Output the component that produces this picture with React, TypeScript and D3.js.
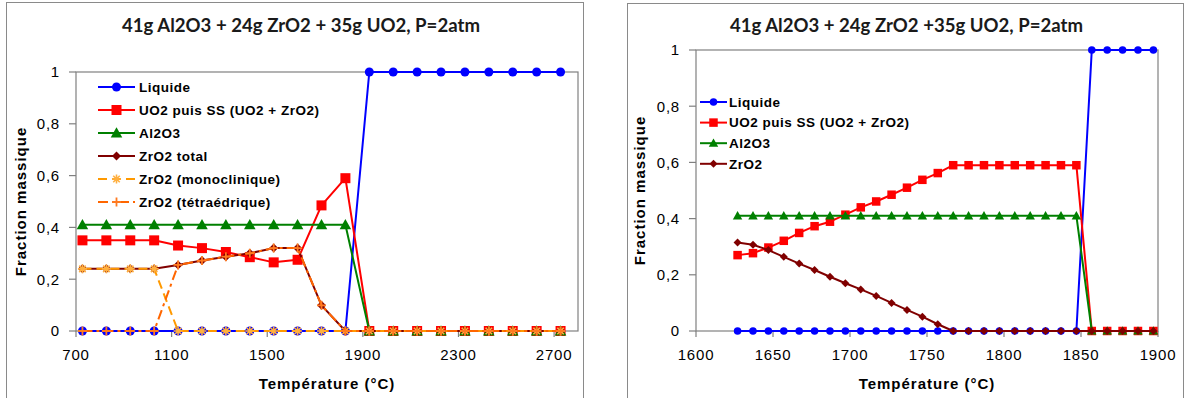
import React from "react";
import * as d3 from "d3";

// ---------- Data: left chart (700–2800 °C) ----------
const tempsA = [727, 827, 927, 1027, 1127, 1227, 1327, 1427, 1527, 1627, 1727, 1827, 1927, 2027, 2127, 2227, 2327, 2427, 2527, 2627, 2727];
const liquideA = [0, 0, 0, 0, 0, 0, 0, 0, 0, 0, 0, 0, 1, 1, 1, 1, 1, 1, 1, 1, 1];
const uo2A = [0.35, 0.35, 0.35, 0.35, 0.33, 0.32, 0.305, 0.285, 0.265, 0.275, 0.485, 0.59, 0, 0, 0, 0, 0, 0, 0, 0, 0];
const al2o3A = [0.41, 0.41, 0.41, 0.41, 0.41, 0.41, 0.41, 0.41, 0.41, 0.41, 0.41, 0.41, 0, 0, 0, 0, 0, 0, 0, 0, 0];
const zro2TotalA = [0.24, 0.24, 0.24, 0.24, 0.255, 0.272, 0.287, 0.3, 0.32, 0.32, 0.099, 0, 0, 0, 0, 0, 0, 0, 0, 0, 0];
const zro2MonoA = [0.24, 0.24, 0.24, 0.24, 0, 0, 0, 0, 0, 0, 0, 0, 0, 0, 0, 0, 0, 0, 0, 0, 0];
const zro2TetraA = [0, 0, 0, 0, 0.255, 0.272, 0.287, 0.3, 0.32, 0.32, 0.099, 0, 0, 0, 0, 0, 0, 0, 0, 0, 0];
const xTicksA = [700, 1100, 1500, 1900, 2300, 2700];

// ---------- Data: right chart (1600–1900 °C) ----------
const tempsB = [1627, 1637, 1647, 1657, 1667, 1677, 1687, 1697, 1707, 1717, 1727, 1737, 1747, 1757, 1767, 1777, 1787, 1797, 1807, 1817, 1827, 1837, 1847, 1857, 1867, 1877, 1887, 1897];
const liquideB = [0, 0, 0, 0, 0, 0, 0, 0, 0, 0, 0, 0, 0, 0, 0, 0, 0, 0, 0, 0, 0, 0, 0, 1, 1, 1, 1, 1];
const uo2B = [0.27, 0.277, 0.297, 0.321, 0.349, 0.373, 0.389, 0.414, 0.44, 0.461, 0.485, 0.51, 0.538, 0.562, 0.59, 0.59, 0.59, 0.59, 0.59, 0.59, 0.59, 0.59, 0.59, 0, 0, 0, 0, 0];
const al2o3B = [0.41, 0.41, 0.41, 0.41, 0.41, 0.41, 0.41, 0.41, 0.41, 0.41, 0.41, 0.41, 0.41, 0.41, 0.41, 0.41, 0.41, 0.41, 0.41, 0.41, 0.41, 0.41, 0.41, 0, 0, 0, 0, 0];
const zro2B = [0.315, 0.307, 0.288, 0.264, 0.24, 0.217, 0.193, 0.17, 0.148, 0.125, 0.1, 0.075, 0.051, 0.024, 0, 0, 0, 0, 0, 0, 0, 0, 0, 0, 0, 0, 0, 0];
const xTicksB = [1600, 1650, 1700, 1750, 1800, 1850, 1900];

const yTicks = [0, 0.2, 0.4, 0.6, 0.8, 1];

const titleA = "41g Al2O3 + 24g ZrO2 + 35g UO2, P=2atm";
const titleB = "41g Al2O3 + 24g ZrO2 +35g UO2, P=2atm";

type Marker = "circle" | "square" | "triangle" | "diamond" | "asterisk" | "plus";
interface Series {
  name: string;
  values: number[];
  color: string;
  markerColor: string;
  marker: Marker;
  dash?: string;
}

const seriesA: Series[] = [
  { name: "Liquide", values: liquideA, color: "#0000FF", markerColor: "#0000FF", marker: "circle" },
  { name: "UO2 puis SS (UO2 + ZrO2)", values: uo2A, color: "#FF0000", markerColor: "#FF0000", marker: "square" },
  { name: "Al2O3", values: al2o3A, color: "#008000", markerColor: "#008000", marker: "triangle" },
  { name: "ZrO2 total", values: zro2TotalA, color: "#800000", markerColor: "#800000", marker: "diamond" },
  { name: "ZrO2 (monoclinique)", values: zro2MonoA, color: "#FF9900", markerColor: "#FFB040", marker: "asterisk", dash: "9,5" },
  { name: "ZrO2 (tétraédrique)", values: zro2TetraA, color: "#FF6600", markerColor: "#FF7A20", marker: "plus", dash: "10,4,3,4" },
];

const seriesB: Series[] = [
  { name: "Liquide", values: liquideB, color: "#0000FF", markerColor: "#0000FF", marker: "circle" },
  { name: "UO2 puis SS (UO2 + ZrO2)", values: uo2B, color: "#FF0000", markerColor: "#FF0000", marker: "square" },
  { name: "Al2O3", values: al2o3B, color: "#008000", markerColor: "#008000", marker: "triangle" },
  { name: "ZrO2", values: zro2B, color: "#800000", markerColor: "#800000", marker: "diamond" },
];

function MarkerShape({ type, x, y, size, color }: { type: Marker; x: number; y: number; size: number; color: string }) {
  const h = size / 2;
  switch (type) {
    case "circle":
      return <circle cx={x} cy={y} r={h} fill={color} />;
    case "square":
      return <rect x={x - h} y={y - h} width={size} height={size} fill={color} />;
    case "triangle":
      return <path d={`M${x},${y - h * 1.05}L${x + h * 1.05},${y + h * 0.8}L${x - h * 1.05},${y + h * 0.8}Z`} fill={color} />;
    case "diamond":
      return <path d={`M${x},${y - h}L${x + h},${y}L${x},${y + h}L${x - h},${y}Z`} fill={color} />;
    case "asterisk": {
      const d = h * 0.72;
      return (
        <path
          d={`M${x - h},${y}L${x + h},${y}M${x},${y - h}L${x},${y + h}M${x - d},${y - d}L${x + d},${y + d}M${x - d},${y + d}L${x + d},${y - d}`}
          stroke={color}
          strokeWidth={1.6}
          fill="none"
        />
      );
    }
    case "plus":
      return <path d={`M${x - h},${y}L${x + h},${y}M${x},${y - h}L${x},${y + h}`} stroke={color} strokeWidth={1.8} fill="none" />;
  }
  return null;
}

interface ChartCfg {
  frame: [number, number, number, number];
  plot: { left: number; right: number; top: number; bottom: number };
  xDomain: [number, number];
  xTicks: number[];
  temps: number[];
  series: Series[];
  title: string;
  titleCx: number;
  titleLen: number;
  legend: { lineX0: number; lineX1: number; textX: number; y0: number; dy: number };
  markerSizes: Record<Marker, number>;
  yTitleX: number;
}

const fmtY = (v: number) => (v === 0 ? "0" : v === 1 ? "1" : d3.format(".1f")(v).replace(".", ","));

function Chart({ cfg }: { cfg: ChartCfg }) {
  const { plot } = cfg;
  const x = d3.scaleLinear().domain(cfg.xDomain).range([plot.left, plot.right]);
  const y = d3.scaleLinear().domain([0, 1]).range([plot.bottom, plot.top]);
  const [fx, fy, fw, fh] = cfg.frame;
  const tickFont = { fontFamily: "'Liberation Sans', Arial, sans-serif", fontSize: 15, letterSpacing: 0.8, fill: "#000" };
  return (
    <g>
      <rect x={fx + 0.5} y={fy + 0.5} width={fw} height={fh} fill="#fff" stroke="#8a8a8a" strokeWidth={1} />
      <text
        x={cfg.titleCx}
        y={31.5}
        textAnchor="middle"
        textLength={cfg.titleLen}
        lengthAdjust="spacingAndGlyphs"
        style={{ fontFamily: "Lato, 'Open Sans', sans-serif", fontWeight: 700, fontSize: 19, fill: "#1a1a1a" }}
      >
        {cfg.title}
      </text>
      {/* plot area border */}
      <rect x={plot.left} y={plot.top} width={plot.right - plot.left} height={plot.bottom - plot.top} fill="#fff" stroke="#808080" strokeWidth={1.2} />
      {/* y ticks */}
      {yTicks.map((t) => (
        <g key={"y" + t}>
          <line x1={plot.left - 7} x2={plot.left} y1={y(t)} y2={y(t)} stroke="#808080" strokeWidth={1.2} />
          <text x={plot.left - 16} y={y(t)} dy="0.36em" textAnchor="end" style={tickFont}>
            {fmtY(t)}
          </text>
        </g>
      ))}
      {/* x ticks */}
      {cfg.xTicks.map((t) => (
        <g key={"x" + t}>
          <line x1={x(t)} x2={x(t)} y1={plot.bottom} y2={plot.bottom + 6} stroke="#808080" strokeWidth={1.2} />
          <text x={x(t)} y={355} dy="0.36em" textAnchor="middle" style={tickFont}>
            {t}
          </text>
        </g>
      ))}
      {/* axis titles */}
      <text
        x={(plot.left + plot.right) / 2}
        y={384}
        dy="0.36em"
        textAnchor="middle"
        style={{ fontFamily: "'Liberation Sans', Arial, sans-serif", fontWeight: 700, fontSize: 15, letterSpacing: 1, fill: "#000" }}
      >
        Température (°C)
      </text>
      <text
        transform={`translate(${cfg.yTitleX},${(plot.top + plot.bottom) / 2}) rotate(-90)`}
        dy="0.36em"
        textAnchor="middle"
        style={{ fontFamily: "'Liberation Sans', Arial, sans-serif", fontWeight: 700, fontSize: 15, letterSpacing: 1, fill: "#000" }}
      >
        Fraction massique
      </text>
      {/* series lines */}
      {cfg.series.map((s) => {
        const line = d3
          .line<number>()
          .x((_, i) => x(cfg.temps[i]))
          .y((v) => y(v));
        return (
          <g key={s.name}>
            <path d={line(s.values) || ""} fill="none" stroke={s.color} strokeWidth={2} strokeDasharray={s.dash} strokeLinejoin="round" />
            {s.values.map((v, i) => (
              <MarkerShape key={i} type={s.marker} x={x(cfg.temps[i])} y={y(v)} size={cfg.markerSizes[s.marker]} color={s.markerColor} />
            ))}
          </g>
        );
      })}
      {/* legend */}
      {cfg.series.map((s, i) => {
        const ly = cfg.legend.y0 + i * cfg.legend.dy;
        const mx = (cfg.legend.lineX0 + cfg.legend.lineX1) / 2;
        return (
          <g key={"lg" + s.name}>
            <line x1={cfg.legend.lineX0} x2={cfg.legend.lineX1} y1={ly} y2={ly} stroke={s.color} strokeWidth={2} strokeDasharray={s.dash} />
            <MarkerShape type={s.marker} x={mx} y={ly} size={cfg.markerSizes[s.marker]} color={s.markerColor} />
            <text
              x={cfg.legend.textX}
              y={ly}
              dy="0.36em"
              style={{ fontFamily: "'Liberation Sans', Arial, sans-serif", fontWeight: 700, fontSize: 13.5, letterSpacing: 0.5, fill: "#000" }}
            >
              {s.name}
            </text>
          </g>
        );
      })}
    </g>
  );
}

const cfgA: ChartCfg = {
  frame: [6, 2, 577, 420],
  plot: { left: 76, right: 578, top: 72, bottom: 331 },
  xDomain: [700, 2800],
  xTicks: xTicksA,
  temps: tempsA,
  series: seriesA,
  title: titleA,
  titleCx: 301,
  titleLen: 358,
  legend: { lineX0: 98, lineX1: 135, textX: 139, y0: 87, dy: 23 },
  markerSizes: { circle: 9, square: 10, triangle: 11, diamond: 9, asterisk: 9, plus: 9 },
  yTitleX: 21,
};

const cfgB: ChartCfg = {
  frame: [627, 3, 556, 420],
  plot: { left: 696, right: 1158, top: 50, bottom: 331 },
  xDomain: [1600, 1900],
  xTicks: xTicksB,
  temps: tempsB,
  series: seriesB,
  title: titleB,
  titleCx: 906.5,
  titleLen: 353,
  legend: { lineX0: 700, lineX1: 727, textX: 729, y0: 102, dy: 20.6 },
  markerSizes: { circle: 7.5, square: 8.5, triangle: 9, diamond: 8, asterisk: 8, plus: 8 },
  yTitleX: 640,
};

export default function App() {
  return (
    <svg width={1186} height={398} style={{ position: "absolute", left: 0, top: 0, background: "#fff" }}>
      <rect width={1186} height={398} fill="#fff" />
      <Chart cfg={cfgA} />
      <Chart cfg={cfgB} />
    </svg>
  );
}
